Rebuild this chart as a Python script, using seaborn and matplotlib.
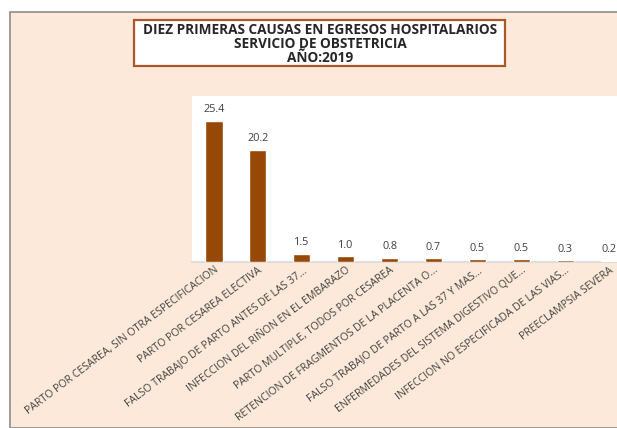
import matplotlib
matplotlib.use("Agg")
import matplotlib.pyplot as plt
from matplotlib.patches import Rectangle
import seaborn as sns
import pandas as pd

# Top ten causes of hospital discharge, obstetrics service, 2019 (%)
causas = [
    "PARTO POR CESAREA, SIN OTRA ESPECIFICACION",
    "PARTO POR CESAREA ELECTIVA",
    "FALSO TRABAJO DE PARTO ANTES DE LAS 37...",
    "INFECCION DEL RIÑON EN EL EMBARAZO",
    "PARTO MULTIPLE, TODOS POR CESAREA",
    "RETENCION DE FRAGMENTOS DE LA PLACENTA O...",
    "FALSO TRABAJO DE PARTO A LAS 37 Y MAS...",
    "ENFERMEDADES DEL SISTEMA DIGESTIVO QUE...",
    "INFECCION NO ESPECIFICADA DE LAS VIAS...",
    "PREECLAMPSIA SEVERA",
]
porcentajes = [25.4, 20.2, 1.5, 1.0, 0.8, 0.7, 0.5, 0.5, 0.3, 0.2]
titulo = ["DIEZ PRIMERAS CAUSAS EN EGRESOS HOSPITALARIOS",
          "SERVICIO DE OBSTETRICIA",
          "AÑO:2019"]

df = pd.DataFrame({"causa": causas, "pct": porcentajes})

sns.set_theme(style="white")
plt.rcParams["font.family"] = ["Open Sans", "DejaVu Sans"]

W, H = 617, 428
fig = plt.figure(figsize=(W / 100, H / 100), dpi=100)
fig.patch.set_facecolor("white")

# peach chart area with grey frame on the left and top
peach = "#FDE9D9"
fig.patches.append(Rectangle((10 / W, 0), 1, 1 - 12 / H, transform=fig.transFigure,
                             facecolor=peach, edgecolor="#8C8C8C", linewidth=1.2,
                             zorder=-10))

# title box
fig.patches.append(Rectangle((134 / W, 1 - 66 / H), (505 - 134) / W, 46 / H,
                             transform=fig.transFigure, facecolor="white",
                             edgecolor="#A9582A", linewidth=1.6, zorder=-5))
fig.text(320 / W, 1 - 43.5 / H, "\n".join(titulo), ha="center", va="center",
         fontsize=9.8, fontweight="bold", color="#262626", linespacing=1.0)

ax = fig.add_axes([192 / W, 1 - 262 / H, 1 - 192 / W, (262 - 96) / H])
ax.set_facecolor("white")

sns.barplot(data=df, x="causa", y="pct", color="#974706", saturation=1,
            width=0.39, ax=ax, zorder=3)

for cont in ax.containers:
    ax.bar_label(cont, labels=[f"{v:.1f}" for v in porcentajes], padding=4,
                 fontsize=7.8, color="#404040")

ax.set_xlim(-0.5, 9.18)
ax.set_ylim(0, 29.9)
ax.set_xlabel("")
ax.set_ylabel("")
ax.set_yticks([])
for s in ["left", "right", "top"]:
    ax.spines[s].set_visible(False)
ax.spines["bottom"].set_color("#D9D9D9")
ax.spines["bottom"].set_linewidth(1.2)
ax.spines["bottom"].set_zorder(1)
ax.tick_params(axis="x", length=0, pad=2)
plt.setp(ax.get_xticklabels(), rotation=37, ha="right", rotation_mode="anchor",
         fontsize=7.6, color="#404040")

fig.savefig("out.png", dpi=100, facecolor=fig.get_facecolor())
